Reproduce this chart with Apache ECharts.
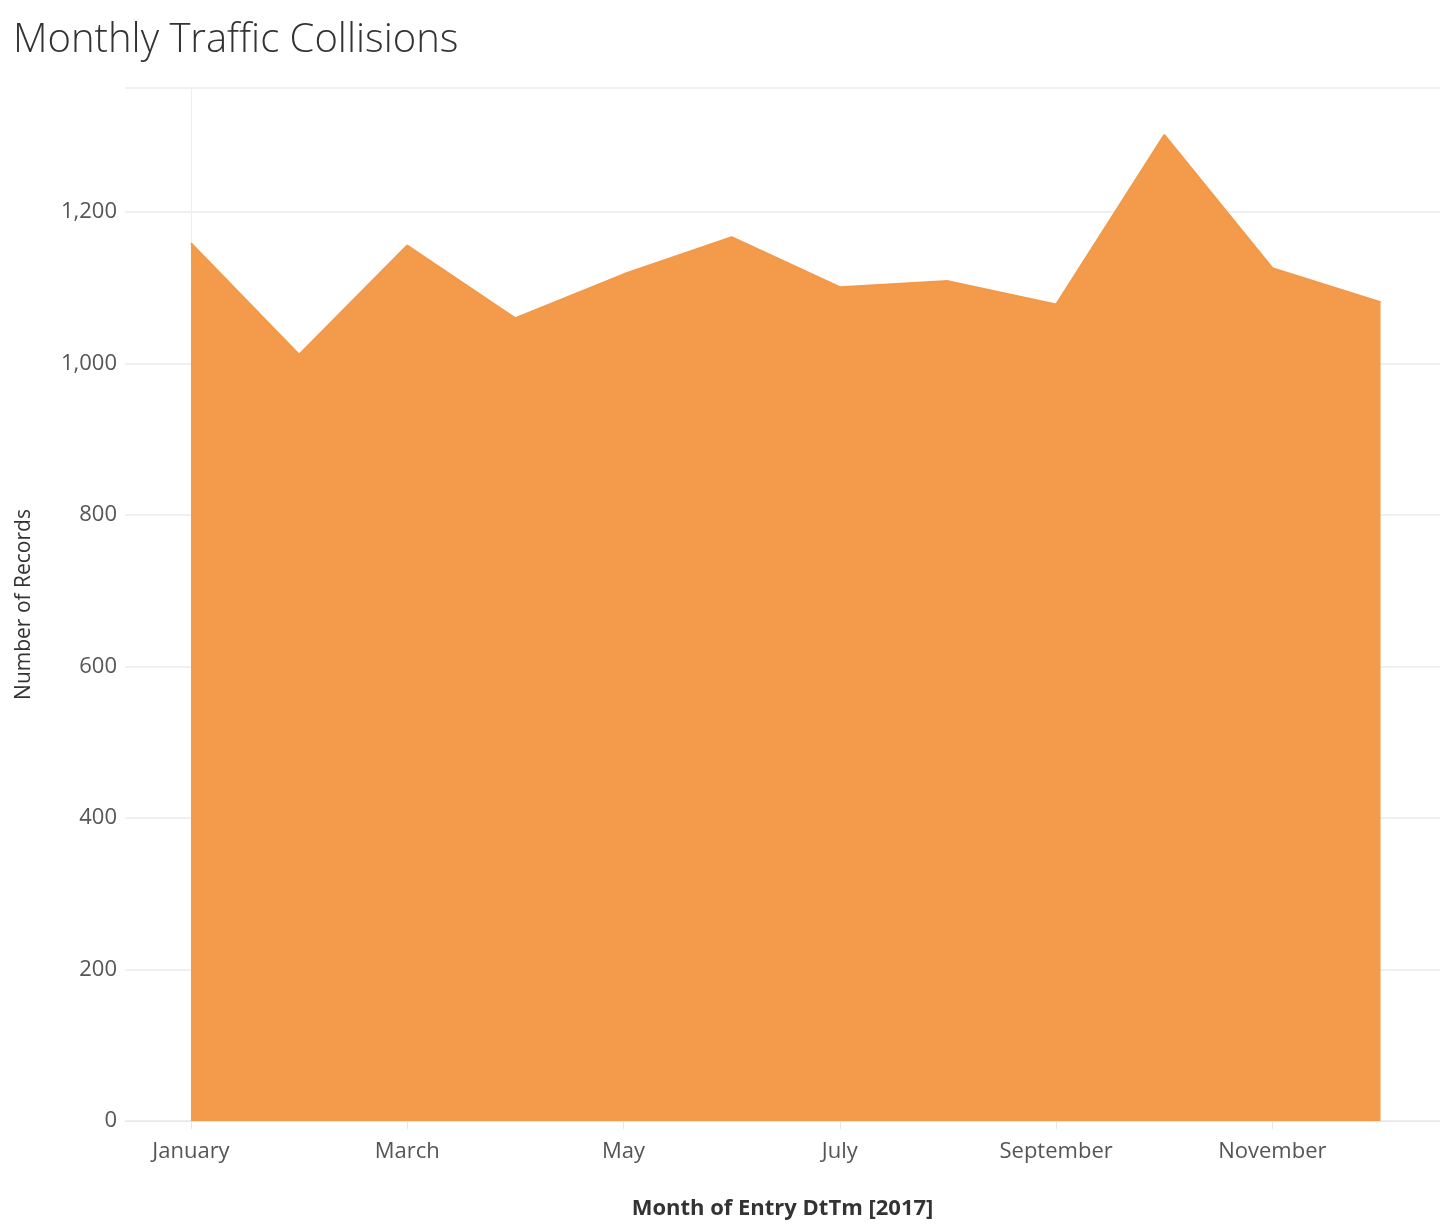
<!DOCTYPE html>
<html><head><meta charset="utf-8">
<script src="https://cdn.jsdelivr.net/npm/echarts@6/dist/echarts.min.js"></script>
<style>html,body{margin:0;background:#fff}</style>
</head><body>
<div id="main" style="width:1440px;height:1232px"></div>
<script>
var months = ['January','February','March','April','May','June','July','August','September','October','November','December'];
var records = [1159, 1012, 1156, 1060, 1118, 1167, 1101, 1109, 1078, 1302, 1126, 1081];
var labelMonths = [0, 2, 4, 6, 8, 10];

var chart = echarts.init(document.getElementById('main'));
chart.setOption({
    animation: false,
    title: {
        text: 'Monthly Traffic Collisions', left: 8, top: 16,
        textStyle: { fontFamily: 'Open Sans', fontSize: 40, fontWeight: 300, color: '#333' }
    },
    grid: { left: 125, right: 0, top: 88, bottom: 111 },
    xAxis: {
        type: 'value', min: -0.61, max: 11.55,
        name: 'Month of Entry DtTm [2017]', nameLocation: 'middle', nameGap: 77,
        nameTextStyle: { fontFamily: 'Open Sans', fontSize: 22, fontWeight: 'bold', color: '#333' },
        axisLine: { lineStyle: { color: '#e6e6e6' } },
        axisTick: { show: true, customValues: labelMonths, length: 8, lineStyle: { color: '#e6e6e6' } },
        splitLine: { show: false },
        axisLabel: {
            customValues: labelMonths, margin: 20,
            fontFamily: 'Open Sans', fontSize: 22, color: '#555',
            formatter: function (v) { return months[Math.round(v)]; }
        }
    },
    yAxis: {
        type: 'value', min: 0, max: 1364, interval: 200,
        name: 'Number of Records', nameLocation: 'middle', nameGap: 90,
        nameTextStyle: { fontFamily: 'Open Sans', fontSize: 21, color: '#333' },
        axisLine: { show: true, lineStyle: { color: '#eeeeee' } },
        axisTick: { show: false },
        splitLine: { lineStyle: { color: '#ebebeb', width: 1.5 } },
        axisLabel: { showMaxLabel: false, margin: 8, fontFamily: 'Open Sans', fontSize: 22, color: '#555' }
    },
    series: [{
        type: 'line',
        data: records.map(function (v, i) { return [i, v]; }),
        symbol: 'none',
        lineStyle: { color: '#f2994a', width: 2 },
        areaStyle: { color: '#f39b4a', opacity: 1 }
    }]
});
</script>
</body></html>
